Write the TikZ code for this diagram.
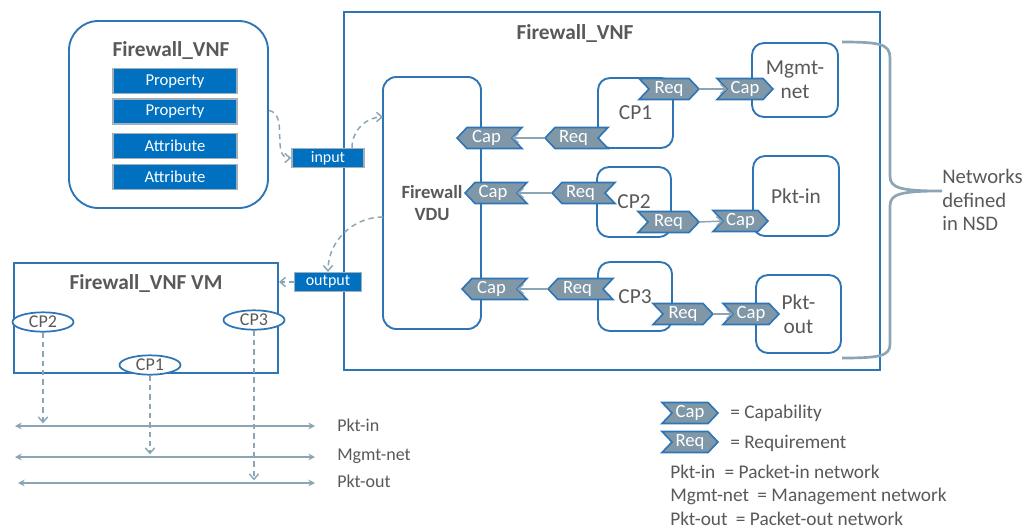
\documentclass[tikz,border=0pt]{standalone}
\usepackage{fontspec}
\setmainfont{Carlito}
\usetikzlibrary{arrows.meta,shapes.geometric}
\definecolor{bl}{RGB}{46,117,182}
\definecolor{bfill}{RGB}{0,112,192}
\definecolor{tagf}{RGB}{128,151,168}
\definecolor{conn}{RGB}{140,165,180}
\definecolor{txt}{RGB}{89,89,89}
\definecolor{pborder}{RGB}{165,175,185}
\newcommand{\mktagL}[5]{%
  \draw[tagsty] (#2,#4) -- (#2+10,#4-10.5) -- (#3,#4-10.5) -- (#3-10,#4) -- (#3,#4+10.5) -- (#2+10,#4+10.5) -- cycle;
  \node[tagtxt] (#1) at ({(#2+#3)/2-3},#4) {#5};
  \coordinate (#1-tip) at (#2,#4);
  \coordinate (#1-notch) at (#3-10,#4);}
\newcommand{\mktagR}[5]{%
  \draw[tagsty] (#2,#4-10.5) -- (#3-10,#4-10.5) -- (#3,#4) -- (#3-10,#4+10.5) -- (#2,#4+10.5) -- (#2+10,#4) -- cycle;
  \node[tagtxt] (#1) at ({(#2+#3)/2},#4) {#5};
  \coordinate (#1-tip) at (#3,#4);
  \coordinate (#1-notch) at (#2+10,#4);}
\begin{document}
\begin{tikzpicture}[x=0.75pt,y=-0.75pt,
  every node/.style={text=txt, inner sep=0pt},
  rbox/.style={draw=bl, line width=1.4pt, rounded corners=9pt, fill=white},
  title/.style={font=\fontsize{16}{18}\selectfont\bfseries},
  lbl/.style={font=\fontsize{16}{18}\selectfont, align=center},
  pbox/.style={draw=pborder, line width=1.2pt, fill=bfill, text=white, minimum width=93pt, minimum height=18.5pt, font=\fontsize{12.5}{14}\selectfont},
  iobox/.style={draw=pborder, line width=1.2pt, fill=bfill, text=white, minimum height=14pt, font=\fontsize{12}{14}\selectfont},
  tagsty/.style={draw=bl, line width=1.2pt, fill=tagf, line join=miter},
  tagtxt/.style={text=white, font=\fontsize{14}{15}\selectfont},
  arr/.style={draw=conn, line width=1.1pt, -{Straight Barb[length=4pt,width=7pt]}},
  dcon/.style={draw=conn, line width=1.1pt, dash pattern=on 4pt off 3pt, -{Straight Barb[length=4pt,width=7pt]}},
  netl/.style={draw=conn, line width=1.1pt, {Stealth[length=5pt,width=5pt]}-{Stealth[length=5pt,width=5pt]}},
  ell/.style={ellipse, draw=bl, line width=1.3pt, fill=white, minimum width=45.75pt, minimum height=14.5pt, font=\fontsize{13.5}{15}\selectfont},
  legt/.style={anchor=west, font=\fontsize{14.5}{16}\selectfont}]
\useasboundingbox (0,0) rectangle (1035,529);
\fill[white] (0,0) rectangle (1035,529);

% big box
\node[draw=bl, line width=1.8pt, minimum width=402pt, minimum height=268.5pt] (big) at (612,191) {};
\node[title] (bigt) at (575,34) {Firewall\_VNF};

% top-left VNF box
\node[rbox, rounded corners=22pt, minimum width=149.25pt, minimum height=140.25pt] (vnf) at (168.5,114.5) {};
\node[title] (vnft) at (171,51) {Firewall\_VNF};
\node[pbox] (p1) at (175,81) {Property};
\node[pbox] (p2) at (175,111.5) {Property};
\node[pbox] (a1) at (175,146) {Attribute};
\node[pbox] (a2) at (175,177) {Attribute};

% VDU
\node[rbox, rounded corners=10pt, minimum width=73.5pt, minimum height=189pt, font=\fontsize{14}{17}\selectfont\bfseries, align=center] (vdu) at (432,203) {Firewall\\VDU};
\coordinate (vduin) at (383,117);
\coordinate (vduout) at (383,217);

% CP boxes
\node[rbox, minimum width=56.25pt, minimum height=52.5pt, lbl] (cp1) at (635.5,113) {CP1};
\node[rbox, minimum width=55.5pt, minimum height=52.5pt, lbl] (cp2) at (634,202) {CP2};
\node[rbox, minimum width=55.5pt, minimum height=51.75pt, lbl] (cp3) at (635,296.5) {CP3};

% network boxes
\node[rbox, minimum width=64.5pt, minimum height=55.5pt, lbl] (mg) at (795,80) {Mgmt-\\net};
\node[rbox, minimum width=64.5pt, minimum height=60pt, lbl] (pi) at (796,196) {Pkt-in};
\node[rbox, minimum width=63.75pt, minimum height=58.5pt, lbl] (po) at (798.5,314) {Pkt-\\out};

% tags left side
\mktagL{capL1}{457}{522}{138}{Cap}
\mktagL{reqL1}{545}{608}{138}{Req}
\mktagL{capL2}{465}{527}{193}{Cap}
\mktagL{reqL2}{552}{615}{193}{Req}
\mktagL{capL3}{462}{527}{289}{Cap}
\mktagL{reqL3}{548}{613}{289}{Req}
% tags right side
\mktagR{reqR1}{639}{699}{89}{Req}
\mktagR{capR1}{717}{773}{89}{Cap}
\mktagR{reqR2}{638}{699}{222}{Req}
\mktagR{capR2}{713}{768}{221}{Cap}
\mktagR{reqR3}{653}{713}{314}{Req}
\mktagR{capR3}{723}{779}{314}{Cap}

\draw[arr] (reqL1-tip) -- (capL1-notch);
\draw[arr] (reqL2-tip) -- (capL2-notch);
\draw[arr] (reqL3-tip) -- (capL3-notch);
\draw[arr] (reqR1-tip) -- (capR1-notch);
\draw[arr] (reqR2-tip) -- (capR2-notch);
\draw[arr] (reqR3-tip) -- (capR3-notch);

% input / output
\node[iobox, minimum width=54pt] (input) at (328,158) {input};
\node[iobox, minimum width=50pt] (output) at (328,282) {output};

% VM box
\node[draw=bl, line width=1.6pt, fill=white, minimum width=198pt, minimum height=82.5pt] (vm) at (146,318) {};
\node[title] (vmt) at (146,283) {Firewall\_VNF VM};
\node[ell] (vmcp2) at (43,322) {CP2};
\node[ell] (vmcp3) at (254,320) {CP3};
\node[ell] (vmcp1) at (150,365) {CP1};

% dashed connectors
\draw[dcon] ([yshift=3pt]vnf.east) to[out=-10,in=180] (input.west);
\draw[dcon] ([xshift=18pt]input.north) to[out=90,in=180] (vduin);
\draw[dcon] (vduout) to[out=180,in=90] (output.north);
\draw[dcon] (output.west) -- (vm.east |- output.west);

% networks at bottom
\coordinate (pinL) at (15,426);  \coordinate (pinR) at (315,426);
\coordinate (mgL) at (15,457);   \coordinate (mgR) at (315,457);
\coordinate (poL) at (18,483);   \coordinate (poR) at (315,483);
\draw[netl] (pinL) -- (pinR);
\draw[netl] (mgL) -- (mgR);
\draw[netl] (poL) -- (poR);
\node[anchor=west, font=\fontsize{13.5}{15}\selectfont] (pinlab) at (337,425) {Pkt-in};
\node[anchor=west, font=\fontsize{13.5}{15}\selectfont] (mglab) at (337,456) {Mgmt-net};
\node[anchor=west, font=\fontsize{13.5}{15}\selectfont] (polab) at (337,481) {Pkt-out};
\draw[dcon, shorten >=2pt] (vmcp2.south) -- (vmcp2.south |- pinL);
\draw[dcon, shorten >=2pt] (vmcp1.south) -- (vmcp1.south |- mgL);
\draw[dcon, shorten >=2pt] (vmcp3.south) -- (vmcp3.south |- poL);

% brace
\draw[conn, line width=2pt] (842,42) .. controls (880,42) and (890,44) .. (890,58) -- (890,176)
  .. controls (890,188) and (900,191) .. (942,191)
  .. controls (900,191) and (890,194) .. (890,206) -- (890,344)
  .. controls (890,356) and (880,358) .. (842,358);
\node[anchor=west, align=left, font=\fontsize{15.5}{17.5}\selectfont] (nsd) at (942,200) {Networks\\defined\\in NSD};

% legend
\mktagR{legcap}{662}{718}{413}{Cap}
\mktagR{legreq}{662}{718}{442}{Req}
\node[legt] (lc) at (730,413) {= Capability};
\node[legt] (lr) at (730,443) {= Requirement};
\node[legt] (l1) at (670,472) {Pkt-in\hspace{7pt}= Packet-in network};
\node[legt] (l2) at (670,496) {Mgmt-net\hspace{3pt} = Management network};
\node[legt] (l3) at (670,519) {Pkt-out\hspace{3pt} = Packet-out network};
\end{tikzpicture}
\end{document}
